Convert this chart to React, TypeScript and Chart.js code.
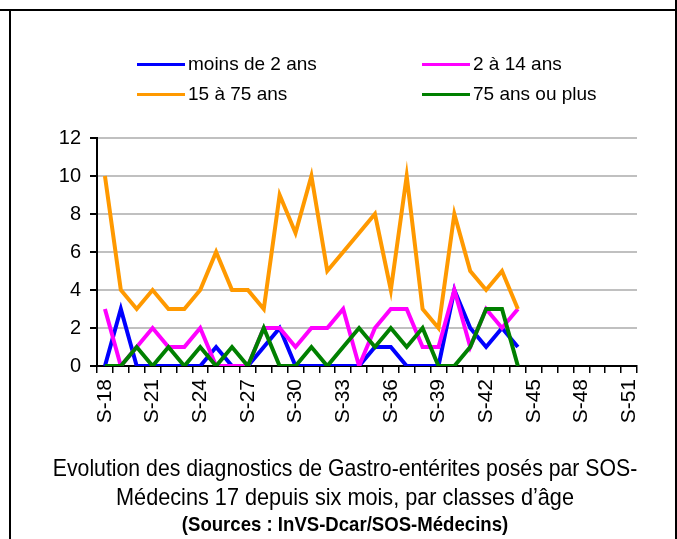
import React, { useEffect, useRef } from "react";
import { Chart, registerables } from "chart.js";

Chart.register(...registerables);

const weeks: string[] = [];
for (let w = 18; w <= 51; w++) weeks.push("S-" + w);

const moinsDe2: (number | null)[] = [0, 3, 0, 0, 0, 0, 0, 1, 0, 0, 1, 2, 0, 0, 0, 0, 0, 1, 1, 0, 0, 0, 4, 2, 1, 2, 1];
const de2a14: (number | null)[] = [3, 0, 1, 2, 1, 1, 2, 0, 0, 0, 2, 2, 1, 2, 2, 3, 0, 2, 3, 3, 1, 1, 4, 1, 3, 2, 3];
const de15a75: (number | null)[] = [10, 4, 3, 4, 3, 3, 4, 6, 4, 4, 3, 9, 7, 10, 5, 6, 7, 8, 4, 10, 3, 2, 8, 5, 4, 5, 3];
const plus75: (number | null)[] = [0, 0, 1, 0, 1, 0, 1, 0, 1, 0, 2, 0, 0, 1, 0, 1, 2, 1, 2, 1, 2, 0, 0, 1, 3, 3, 0];

const seriesNames = ["moins de 2 ans", "2 à 14 ans", "15 à 75 ans", "75 ans ou plus"];
const seriesColors = ["#0000ff", "#ff00ff", "#ff9900", "#008000"];
const yTicks = [0, 2, 4, 6, 8, 10, 12];

const titleLines = [
  "Evolution des diagnostics de Gastro-entérites posés par SOS-",
  "Médecins 17 depuis six mois, par classes d’âge",
];
const sourceLine = "(Sources : InVS-Dcar/SOS-Médecins)";

function pad(arr: (number | null)[]) {
  const out = arr.slice();
  while (out.length < weeks.length) out.push(null);
  return out;
}

const sans = "'Liberation Sans', Arial, sans-serif";

export default function App() {
  const ref = useRef<HTMLCanvasElement | null>(null);

  useEffect(() => {
    document.body.style.margin = "0";
    const ctx = ref.current!.getContext("2d")!;
    const all = [moinsDe2, de2a14, de15a75, plus75];
    const chart = new Chart(ctx, {
      type: "line",
      data: {
        labels: weeks,
        datasets: all.map((d, i) => ({
          label: seriesNames[i],
          data: pad(d),
          borderColor: seriesColors[i],
          backgroundColor: seriesColors[i],
          borderWidth: 4,
          pointRadius: 0,
          tension: 0,
          spanGaps: false,
          order: 3 - i,
        })),
      },
      options: {
        animation: false,
        responsive: false,
        maintainAspectRatio: false,
        layout: { padding: { left: 0, right: 40, top: 138, bottom: 0 } },
        plugins: { legend: { display: false }, tooltip: { enabled: false }, title: { display: false } },
        scales: {
          x: {
            type: "category",
            offset: true,
            afterFit: (s: any) => { s.height = 173; },
            grid: {
              offset: true,
              drawOnChartArea: false,
              drawTicks: true,
              tickLength: 7,
              color: "#000",
              lineWidth: 1.5,
            },
            border: { color: "#000", width: 2 },
            ticks: {
              autoSkip: false,
              maxRotation: 90,
              minRotation: 90,
              padding: 6,
              color: "#000",
              font: { family: sans, size: 21 },
              callback: (_v: any, i: number) => (i % 3 === 0 ? weeks[i] : ""),
            },
          },
          y: {
            min: 0,
            max: 12,
            afterFit: (s: any) => { s.width = 97; },
            afterBuildTicks: (s: any) => { s.ticks = yTicks.map((v) => ({ value: v })); },
            grid: {
              color: "#c0c0c0",
              lineWidth: 2,
              tickColor: "#000",
              tickLength: 7,
            },
            border: { color: "#000", width: 2 },
            ticks: {
              padding: 9,
              color: "#000",
              font: { family: sans, size: 20 },
            },
          },
        },
      },
    });
    return () => chart.destroy();
  }, []);

  const legendPos = [
    { x: 137, y: 64 },
    { x: 422, y: 64 },
    { x: 137, y: 94 },
    { x: 422, y: 94 },
  ];

  const titleStyle: React.CSSProperties = {
    position: "absolute",
    left: 0,
    width: 690,
    textAlign: "center",
    fontFamily: sans,
    color: "#000",
    whiteSpace: "nowrap",
    transform: "scaleX(0.885)",
    transformOrigin: "345px 0",
  };

  return (
    <div style={{ position: "relative", width: 677, height: 539, overflow: "hidden", background: "#fff" }}>
      <canvas ref={ref} width={677} height={539} style={{ position: "absolute", left: 0, top: 0 }} />
      <div style={{ position: "absolute", left: 0, top: 9, width: 677, height: 2, background: "#000" }} />
      <div style={{ position: "absolute", left: 9, top: 9, width: 2, height: 530, background: "#000" }} />
      <div style={{ position: "absolute", left: 675, top: 0, width: 2, height: 539, background: "#000" }} />
      {seriesNames.map((n, i) => (
        <React.Fragment key={n}>
          <div
            style={{
              position: "absolute",
              left: legendPos[i].x,
              top: legendPos[i].y - 1.5,
              width: 48,
              height: 3,
              background: seriesColors[i],
            }}
          />
          <div
            style={{
              position: "absolute",
              left: legendPos[i].x + 51,
              top: legendPos[i].y - 11,
              height: 22,
              lineHeight: "22px",
              fontFamily: sans,
              fontSize: 19,
              color: "#000",
              whiteSpace: "nowrap",
            }}
          >
            {n}
          </div>
        </React.Fragment>
      ))}
      <div style={{ ...titleStyle, top: 453, fontSize: 24, lineHeight: "30px" }}>{titleLines[0]}</div>
      <div style={{ ...titleStyle, top: 482, fontSize: 24.5, lineHeight: "30px" }}>{titleLines[1]}</div>
      <div style={{ ...titleStyle, top: 511, fontSize: 21, lineHeight: "26px", fontWeight: "bold" }}>{sourceLine}</div>
    </div>
  );
}
